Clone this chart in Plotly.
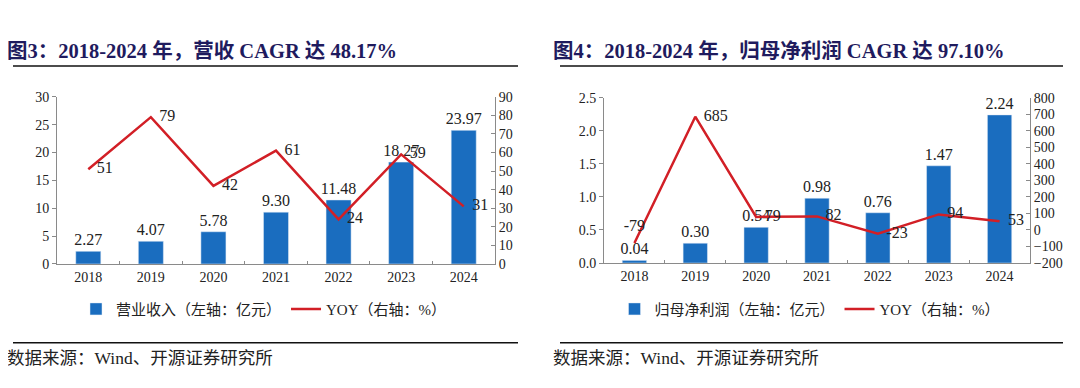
import plotly.graph_objects as go

years = ["2018", "2019", "2020", "2021", "2022", "2023", "2024"]
revenue = [2.27, 4.07, 5.78, 9.30, 11.48, 18.27, 23.97]
revenue_yoy = [51, 79, 42, 61, 24, 59, 31]
profit = [0.04, 0.30, 0.54, 0.98, 0.76, 1.47, 2.24]
profit_yoy = [-79, 685, 79, 82, -23, 94, 53]

title_left = "图3：2018-2024 年，营收 CAGR 达 48.17%"
title_right = "图4：2018-2024 年，归母净利润 CAGR 达 97.10%"
legend_rev = "营业收入（左轴：亿元）"
legend_profit = "归母净利润（左轴：亿元）"
legend_yoy = "YOY（右轴：%）"
source = "数据来源：Wind、开源证券研究所"

FONT = "Liberation Serif, Noto Sans CJK SC, serif"
BLUE = "#1A6DBF"
RED = "#D21F26"
NAVY = "#1F1B5E"
TXT = "#222222"
AX = "#8A8A8A"

W, H = 1080, 388
def px(x):
    return x / W
def py(y):
    return 1 - y / H

fig = go.Figure()

bar_text = dict(family=FONT, size=16, color=TXT)
line_text = dict(family=FONT, size=16, color=TXT)
ghost = dict(size=12, color="rgba(0,0,0,0)")

# left chart
fig.add_trace(go.Bar(x=years, y=revenue, name=legend_rev, marker_color=BLUE, width=0.4,
                     texttemplate="%{y:.2f}", textposition="outside", cliponaxis=False,
                     constraintext="none", textfont=bar_text,
                     xaxis="x", yaxis="y", legend="legend"))
fig.add_trace(go.Scatter(x=years, y=revenue_yoy, name=legend_yoy, mode="lines+markers+text",
                         line=dict(color=RED, width=2.5), marker=ghost,
                         text=[str(v) for v in revenue_yoy],
                         textposition="middle right", cliponaxis=False, textfont=line_text,
                         xaxis="x", yaxis="y2", legend="legend"))

# right chart
fig.add_trace(go.Bar(x=years, y=profit, name=legend_profit, marker_color=BLUE, width=0.4,
                     texttemplate="%{y:.2f}", textposition="outside", cliponaxis=False,
                     constraintext="none", textfont=bar_text,
                     xaxis="x3", yaxis="y3", legend="legend2"))
pos_right = ["top center", "middle right", "middle right", "middle right",
             "middle right", "middle right", "middle right"]
fig.add_trace(go.Scatter(x=years, y=profit_yoy, name=legend_yoy, mode="lines+markers+text",
                         line=dict(color=RED, width=2.5), marker=ghost,
                         text=[str(v) for v in profit_yoy],
                         textposition=pos_right, cliponaxis=False, textfont=line_text,
                         xaxis="x3", yaxis="y4", legend="legend2"))

tickfont = dict(family=FONT, size=14, color=TXT)

xcommon = dict(type="category", showline=True, linecolor=AX, linewidth=1,
               ticks="inside", tickson="boundaries", ticklen=3, tickcolor=AX,
               tickfont=tickfont, showgrid=False, zeroline=False, fixedrange=True)
ycommon = dict(showline=True, linecolor=AX, linewidth=1, tickcolor=AX, ticklen=4,
               tickfont=tickfont, showgrid=False, zeroline=False, fixedrange=True)

legfont = dict(family=FONT, size=15, color=TXT)

fig.update_layout(
    width=W, height=H, margin=dict(l=0, r=0, t=0, b=0),
    paper_bgcolor="white", plot_bgcolor="white",
    font=dict(family=FONT, color=TXT),
    xaxis=dict(domain=[px(49), px(487)], anchor="y", **xcommon),
    yaxis=dict(domain=[py(259), py(85)], anchor="x", range=[0, 30], dtick=5,
               ticks="outside", **ycommon),
    yaxis2=dict(overlaying="y", side="right", anchor="x", range=[0, 90], dtick=10,
                ticks="inside", **ycommon),
    xaxis3=dict(domain=[px(596), px(1022)], anchor="y3", **xcommon),
    yaxis3=dict(domain=[py(258), py(86)], anchor="x3", range=[0, 2.5], dtick=0.5,
                tickformat=".1f", ticks="outside", **ycommon),
    yaxis4=dict(overlaying="y3", side="right", anchor="x3", range=[-200, 800], dtick=100,
                ticks="inside", **ycommon),
    legend=dict(orientation="h", x=px(256), xanchor="center", y=py(306), yanchor="middle",
                font=legfont, bgcolor="rgba(0,0,0,0)", itemwidth=30, tracegroupgap=0),
    legend2=dict(orientation="h", x=px(802), xanchor="center", y=py(306), yanchor="middle",
                 font=legfont, bgcolor="rgba(0,0,0,0)", itemwidth=30, tracegroupgap=0),
    showlegend=True,
)

# titles
for x0, t in [(-3, title_left), (543, title_right)]:
    fig.add_annotation(x=px(x0), y=py(37), xref="paper", yref="paper", text="<b>" + t + "</b>",
                       showarrow=False, xanchor="left", yanchor="middle",
                       font=dict(family=FONT, size=20.5, color=NAVY))
for x0, t in [(-3, source), (543, source)]:
    fig.add_annotation(x=px(x0), y=py(357), xref="paper", yref="paper", text=t,
                       showarrow=False, xanchor="left", yanchor="middle",
                       font=dict(family=FONT, size=17.5, color=TXT))

# rules
for (x0, x1) in [(5, 510), (552, 1055)]:
    for yy in (53, 341):
        fig.add_shape(type="line", xref="paper", yref="paper",
                      x0=px(x0), x1=px(x1), y0=py(yy), y1=py(yy),
                      line=dict(color="#111111", width=1.5))

fig.write_html("out.html")
